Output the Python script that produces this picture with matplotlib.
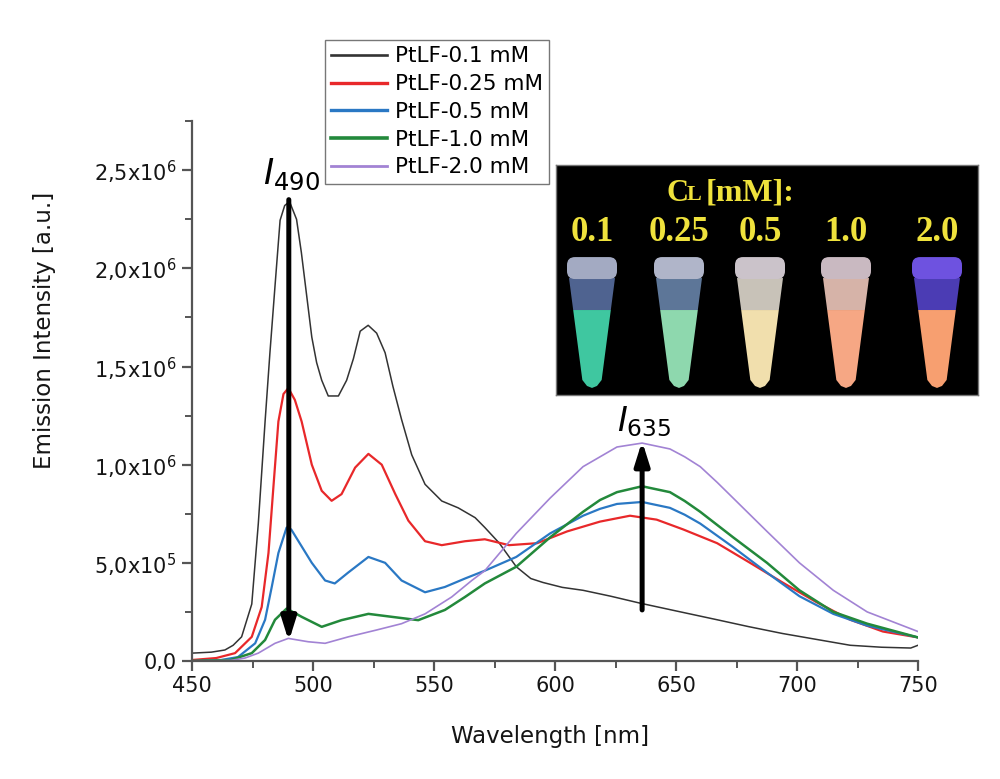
import matplotlib
matplotlib.use("Agg")
import matplotlib.pyplot as plt
from matplotlib.patches import Polygon, FancyBboxPatch
import numpy as np

# ---------------------------------------------------------------------------
# Emission spectra (intensity in units of 1e6 a.u.)
# ---------------------------------------------------------------------------
wl_01 = [450, 458, 463.6, 467, 470.5, 474.7, 477.4, 480.2, 482.2, 484.3,
         486.4, 488.3, 490.3, 493.2, 495.2, 497.4, 499.5, 501.5, 503.6, 506.3,
         510.5, 513.9, 516.7, 519.5, 522.8, 526.3, 529.8, 533, 536.6, 540.8,
         546.3, 553.2, 560, 567, 571, 577, 584, 590, 595, 603, 611.6, 623, 635,
         650, 667, 680, 694, 708, 722, 735, 747, 750]
int_01 = [0.04, 0.045, 0.056, 0.08, 0.123, 0.29, 0.70, 1.22, 1.57, 1.91,
          2.245, 2.32, 2.34, 2.25, 2.08, 1.86, 1.65, 1.52, 1.43, 1.35, 1.35,
          1.43, 1.54, 1.68, 1.71, 1.67, 1.57, 1.40, 1.23, 1.05, 0.90, 0.815,
          0.78, 0.73, 0.68, 0.60, 0.48, 0.42, 0.40, 0.375, 0.36, 0.33, 0.295,
          0.255, 0.21, 0.175, 0.14, 0.11, 0.08, 0.07, 0.066, 0.08]

wl_025 = [450, 460, 467.8, 474.7, 478.8, 481.6, 483.6, 485.7, 487.8, 489.8,
          492.5, 495.3, 499.5, 503.6, 507.7, 511.8, 517.4, 522.9, 528.4, 534,
          539.4, 546.3, 553.2, 562.8, 571, 581, 592.6, 605, 618.6, 631, 642,
          653, 667, 680.6, 694, 708, 722, 735.5, 750]
int_025 = [0.005, 0.015, 0.04, 0.123, 0.275, 0.55, 0.88, 1.22, 1.36, 1.39,
           1.33, 1.22, 1.0, 0.867, 0.816, 0.85, 0.985, 1.055, 1.0, 0.85, 0.715,
           0.61, 0.59, 0.61, 0.62, 0.59, 0.60, 0.66, 0.71, 0.74, 0.72, 0.67,
           0.60, 0.50, 0.40, 0.30, 0.21, 0.15, 0.12]

wl_05 = [450, 462, 469, 476.1, 480.2, 483, 485.7, 489.1, 491, 494, 499.5,
         505, 509, 514.5, 522.9, 529.8, 536.6, 546.3, 554.5, 562.8, 571, 584,
         598, 611.6, 618.6, 625.6, 636, 647.5, 653.6, 660, 673.6, 687.6, 701,
         715, 729, 750]
int_05 = [0.0, 0.005, 0.02, 0.09, 0.21, 0.38, 0.55, 0.68, 0.67, 0.61, 0.50,
          0.41, 0.395, 0.45, 0.53, 0.50, 0.41, 0.35, 0.377, 0.42, 0.46, 0.53,
          0.65, 0.74, 0.775, 0.80, 0.81, 0.78, 0.745, 0.70, 0.58, 0.45, 0.33,
          0.24, 0.18, 0.12]

wl_10 = [450, 466, 474.7, 480.2, 484.3, 489.1, 495.3, 503.6, 511.8, 522.9,
         532.5, 543.5, 554.5, 562.8, 571, 584, 598, 611.6, 618.6, 625.6, 636,
         647.5, 653.6, 660, 673.6, 687.6, 701, 715, 729, 750]
int_10 = [0.0, 0.005, 0.04, 0.107, 0.21, 0.267, 0.225, 0.174, 0.208, 0.24,
          0.225, 0.208, 0.26, 0.326, 0.395, 0.48, 0.63, 0.76, 0.82, 0.86,
          0.89, 0.86, 0.815, 0.76, 0.63, 0.50, 0.36, 0.25, 0.19, 0.12]

wl_20 = [450, 466, 471.9, 477.4, 484.3, 489.8, 498, 505, 514.6, 526, 536.6,
         546.3, 557.3, 565.6, 571, 584, 598, 611.6, 618.6, 625.6, 636, 647.5,
         653.6, 660, 667, 673.6, 687.6, 701, 715, 729, 750]
int_20 = [0.0, 0.003, 0.015, 0.04, 0.09, 0.115, 0.098, 0.09, 0.123, 0.157,
          0.19, 0.24, 0.326, 0.41, 0.46, 0.65, 0.83, 0.99, 1.04, 1.09, 1.11,
          1.08, 1.04, 0.99, 0.91, 0.83, 0.66, 0.50, 0.36, 0.25, 0.15]

labels = ["PtLF-0.1 mM", "PtLF-0.25 mM", "PtLF-0.5 mM", "PtLF-1.0 mM",
          "PtLF-2.0 mM"]
colors = ["#333333", "#e8282a", "#2a78c4", "#23893b", "#a283d4"]
widths = [1.1, 1.6, 1.6, 1.8, 1.2]

# arrows: (wavelength, start, end) in 1e6 a.u.
arrow_down = (490, 2.35, 0.10)
arrow_up = (636, 0.26, 1.12)

# photo inset labels
conc_labels = ["0.1", "0.25", "0.5", "1.0", "2.0"]
liquid_cols = ["#3fc7a0", "#8ed8ae", "#f1dfad", "#f6a784", "#f79f70"]
cap_cols = ["#a3aac2", "#b0b5c9", "#cbc3ca", "#c9b9c1", "#6e52e0"]
band_cols = ["#4f6390", "#5d7698", "#c8c2b8", "#d6b3a8", "#4b3cb4"]

plt.rcParams["font.family"] = ["DejaVu Sans"]
plt.rcParams["mathtext.fontset"] = "dejavusans"

fig = plt.figure(figsize=(10, 7.79), dpi=100)
ax = fig.add_axes([0.192, 0.1515, 0.726, 0.693])

series = [(wl_01, int_01), (wl_025, int_025), (wl_05, int_05),
          (wl_10, int_10), (wl_20, int_20)]
for (wl, iv), lab, c, lw in zip(series, labels, colors, widths):
    ax.plot(wl, np.array(iv) * 1e6, color=c, lw=lw, label=lab,
            solid_joinstyle="round")

ax.set_xlim(450, 750)
ax.set_ylim(0, 2.74e6)
ax.set_xticks(np.arange(450, 751, 50))
ax.set_xticks(np.arange(475, 750, 50), minor=True)
yt = np.arange(0, 2.51e6, 0.5e6)
ax.set_yticks(yt)
ax.set_yticklabels(["0,0", r"5,0x10$^{5}$", r"1,0x10$^{6}$", r"1,5x10$^{6}$",
                    r"2,0x10$^{6}$", r"2,5x10$^{6}$"])
ax.set_yticks(np.arange(0.25e6, 2.76e6, 0.5e6), minor=True)

for side in ["top", "right"]:
    ax.spines[side].set_visible(False)
for side in ["left", "bottom"]:
    ax.spines[side].set_linewidth(1.6)
    ax.spines[side].set_color("#555555")
ax.tick_params(which="major", direction="out", length=7, width=1.6,
               color="#555555", labelsize=15, labelcolor="#151515", pad=4)
ax.tick_params(which="minor", direction="out", length=5, width=1.4,
               color="#555555")

ax.set_xlabel("Wavelength [nm]", fontsize=16.5, color="#151515")
ax.set_ylabel("Emission Intensity [a.u.]", fontsize=16.5, color="#151515")
ax.xaxis.set_label_coords(0.493, -0.118)
ax.yaxis.set_label_coords(-0.188, 0.613)

# arrows
head = "-|>,head_width=0.22,head_length=0.7"
for (x, y0, y1) in [arrow_down, arrow_up]:
    ax.annotate("", xy=(x, y1 * 1e6), xytext=(x, y0 * 1e6),
                arrowprops=dict(arrowstyle=head, lw=3.6, color="black",
                                mutation_scale=20, shrinkA=0, shrinkB=0))
ax.text(491, 2.39e6, r"$\mathit{I}_{\mathit{490}}$", fontsize=25,
        ha="center", va="bottom")
ax.text(637, 1.13e6, r"$\mathit{I}_{\mathit{635}}$", fontsize=24,
        ha="center", va="bottom")

leg = fig.legend(loc="upper left", bbox_to_anchor=(0.325, 0.9487),
                 fontsize=15.5, frameon=True, fancybox=False,
                 borderpad=0.3, labelspacing=0.36, handlelength=2.6,
                 handletextpad=0.35, borderaxespad=0)
leg.get_frame().set_edgecolor("#555555")
leg.get_frame().set_linewidth(1.0)
for h in leg.get_lines():
    h.set_linewidth(h.get_linewidth() + 0.8)

# ---------------------------------------------------------------------------
# Photo inset (drawn schematically)
# ---------------------------------------------------------------------------
ins = fig.add_axes([0.556, 0.493, 0.422, 0.295])
ins.set_facecolor("black")
ins.set_xlim(0, 422)
ins.set_ylim(230, 0)
ins.set_xticks([])
ins.set_yticks([])
for s in ins.spines.values():
    s.set_color("#777777")
    s.set_linewidth(1.0)

yellow = "#efe23c"
serif = "Liberation Serif"
ins.text(121, 28, "C", color=yellow, fontsize=22, fontweight="bold",
         family=serif, ha="center", va="center")
ins.text(138, 30, "L", color=yellow, fontsize=16, fontweight="bold",
         family=serif, ha="center", va="center")
ins.text(150, 28, "[mM]:", color=yellow, fontsize=23, fontweight="bold",
         family=serif, ha="left", va="center")

centers = [36, 123, 204, 290, 381]
for cx, lab, lc, cc, bc in zip(centers, conc_labels, liquid_cols, cap_cols,
                                band_cols):
    ins.text(cx, 67, lab, color=yellow, fontsize=25, fontweight="bold",
             family=serif, ha="center", va="center")
    # tube body: label band then liquid
    def half(y):
        return 23 - (y - 113) * (14 / 107)
    band = [(cx - half(113), 113), (cx + half(113), 113),
            (cx + half(145), 145), (cx - half(145), 145)]
    ins.add_patch(Polygon(band, closed=True, color=bc, lw=0))
    ys = np.linspace(145, 215, 10)
    right = [(cx + half(y), y) for y in ys]
    left = [(cx - half(y), y) for y in ys[::-1]]
    tip = [(cx + 5, 221), (cx, 223), (cx - 5, 221)]
    ins.add_patch(Polygon(right + tip + left, closed=True, color=lc, lw=0))
    ins.add_patch(FancyBboxPatch((cx - 25, 92), 50, 22,
                                 boxstyle="round,pad=0,rounding_size=8",
                                 color=cc, lw=0))

fig.savefig("out.png", dpi=100)
